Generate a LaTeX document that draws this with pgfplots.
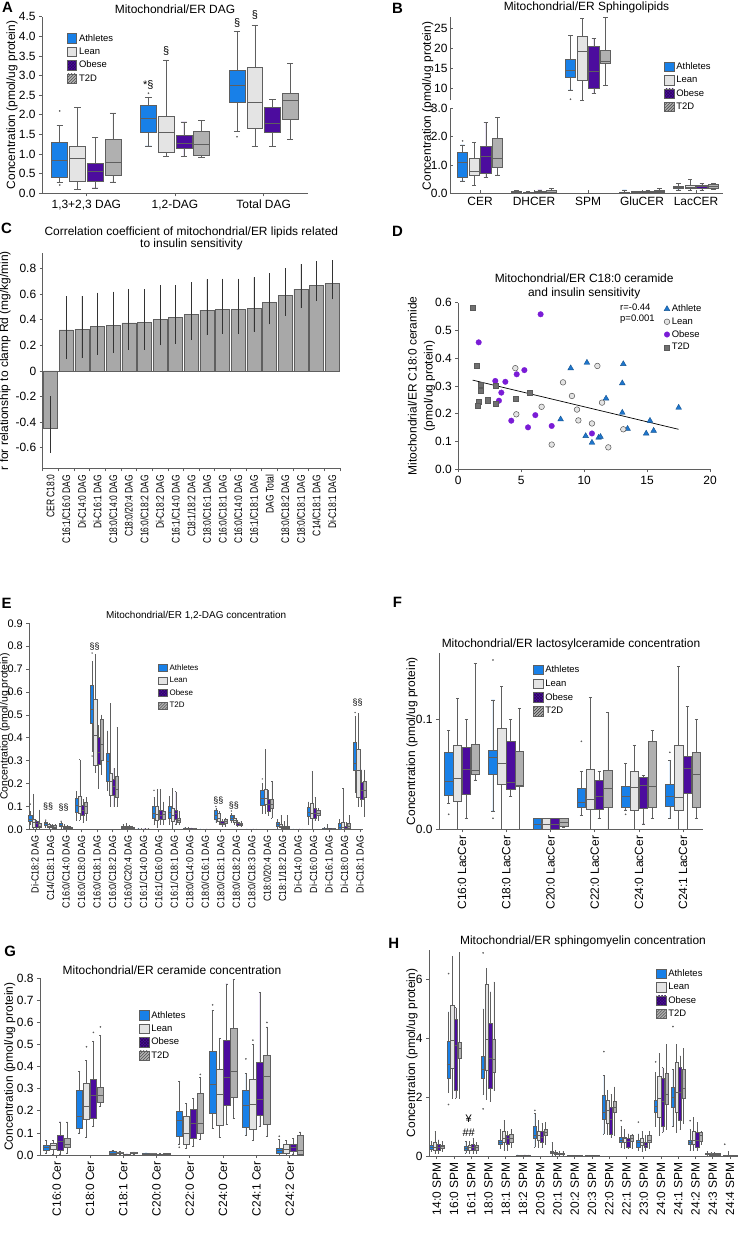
\documentclass[border=0pt]{standalone}
\usepackage{fontspec}
\setmainfont{Liberation Sans}
\usepackage{pgfplots}
\pgfplotsset{compat=1.18}
\usepgfplotslibrary{statistics}
\usetikzlibrary{patterns}

\definecolor{cA}{RGB}{24,128,232}
\definecolor{cL}{RGB}{228,228,228}
\definecolor{cO}{RGB}{76,12,158}
\definecolor{cT}{RGB}{176,176,176}
\definecolor{cE}{RGB}{95,95,95}
\definecolor{cDA}{RGB}{30,118,205}
\definecolor{cDO}{RGB}{122,28,214}
\definecolor{cDT}{RGB}{112,112,112}
\definecolor{cBar}{RGB}{168,168,168}
\newcommand{\fs}[2]{\fontsize{#1}{#2}\selectfont}

\tikzset{
 sA/.style={draw=cE, fill=cA, line width=0.6bp},
 sL/.style={draw=cE, fill=cL, line width=0.6bp},
 sO/.style={draw=cE, fill=cO, line width=0.6bp, postaction={pattern=crosshatch, pattern color=cO!55!black}},
 sT/.style={draw=cE, fill=cT, line width=0.6bp, postaction={pattern=north east lines, pattern color=gray!45!black}},
}

\pgfplotsset{
 panel/.style={scale only axis, anchor=south west, clip=false, axis lines*=left,
   axis line style={cE, line width=0.7bp}, every tick/.style={cE, line width=0.7bp},
   tick align=outside, major tick length=3bp,
   tick label style={font=\fs{12}{13}}, label style={font=\fs{12}{14}},
   title style={font=\fs{12}{14}, align=center, yshift=-6pt},
   /pgf/number format/assume math mode=true,
   legend style={draw=none, fill=none, inner sep=0pt, anchor=north west, font=\fs{9.5}{10}, row sep=1.2bp},
   legend cell align=left},
 bxa/.style={panel, boxplot/draw direction=y, legend image code/.code={\path[##1] (0bp,-4.7bp) rectangle (9.5bp,4.7bp);}},
 f1/.style={yticklabel style={/pgf/number format/fixed,/pgf/number format/fixed zerofill,/pgf/number format/precision=1}},
 rotx/.style={xticklabel style={rotate=90, anchor=east}},
}

\newcommand{\bx}[7]{\pgfmathsetmacro\dpos{#2}\edef\bxtmp{\noexpand\addplot[#1,boxplot prepared={draw position=\dpos,lower whisker=#3,lower quartile=#4,median=#5,upper quartile=#6,upper whisker=#7}] coordinates {};}\bxtmp}
\newcommand{\bA}[6]{\bx{sA}{#1-1.5*\off}{#2}{#3}{#4}{#5}{#6}}
\newcommand{\bL}[6]{\bx{sL}{#1-0.5*\off}{#2}{#3}{#4}{#5}{#6}}
\newcommand{\bO}[6]{\bx{sO}{#1+0.5*\off}{#2}{#3}{#4}{#5}{#6}}
\newcommand{\bT}[6]{\bx{sT}{#1+1.5*\off}{#2}{#3}{#4}{#5}{#6}}
\newcommand{\leg}{\addlegendimage{sA}\addlegendimage{sL}\addlegendimage{sO}\addlegendimage{sT}\legend{Athletes,Lean,Obese,T2D}}

\begin{document}
\begin{tikzpicture}
\useasboundingbox (0,0) rectangle (739bp,-1251bp);

% ---------------- A ----------------
\def\off{0.2}
\begin{axis}[bxa, f1, at={(42bp,-193.3bp)}, width=266bp, height=176.6bp,
  xmin=-0.5, xmax=2.5, ymin=0, ymax=4.5,
  ytick={0,0.5,1,1.5,2,2.5,3,3.5,4,4.5},
  xtick={0,1,2}, xticklabels={{1,3+2,3 DAG},{1,2-DAG},{Total DAG}},
  title={Mitochondrial/ER DAG},
  ylabel={Concentration (pmol/ug protein)},
  ylabel style={at={(axis description cs:-0.113,0.5)}, anchor=center},
  legend style={at={(0.093,0.913)}},
  boxplot/box extend=0.18, boxplot/whisker extend=0.07]
\leg
\bA{0}{0.27}{0.40}{0.85}{1.29}{1.74}
\bL{0}{0.10}{0.30}{0.89}{1.20}{2.19}
\bO{0}{0.14}{0.31}{0.55}{0.76}{1.43}
\bT{0}{0.29}{0.45}{0.79}{1.38}{2.05}
\bA{1}{1.21}{1.55}{1.91}{2.24}{2.44}
\bL{1}{0.94}{1.04}{1.55}{1.95}{3.40}
\bO{1}{0.95}{1.15}{1.27}{1.47}{1.82}
\bT{1}{0.91}{0.98}{1.25}{1.57}{1.85}
\bA{2}{1.57}{2.33}{2.74}{3.13}{4.13}
\bL{2}{1.20}{1.65}{2.32}{3.21}{4.29}
\bO{2}{1.20}{1.55}{1.79}{2.19}{2.39}
\bT{2}{1.38}{1.88}{2.37}{2.55}{3.31}
\addplot[only marks, mark=*, mark size=0.6bp, cE] coordinates {(-0.3,2.1) (-0.3,0.21) (0.7,2.55) (1.7,1.44)};
\node[font=\fs{11}{12}] at (axis cs:0.7,2.75) {*§};
\node[font=\fs{11}{12}] at (axis cs:0.9,3.62) {§};
\node[font=\fs{11}{12}] at (axis cs:1.7,4.33) {§};
\node[font=\fs{11}{12}] at (axis cs:1.9,4.54) {§};
\end{axis}

% ---------------- B upper ----------------
\def\off{0.216}
\begin{axis}[bxa, at={(450bp,-100bp)}, width=273bp, height=83.3bp,
  xmin=-0.556, xmax=4.5, ymin=7.1, ymax=27.9,
  axis x line=none, ytick={10,15,20,25}, tick align=inside,
  yticklabel style={xshift=1bp},
  title={Mitochondrial/ER Sphingolipids},
  legend style={at={(0.784,0.474)}},
  boxplot/box extend=0.19, boxplot/whisker extend=0.08]
\leg
\bA{2}{9.6}{12.75}{14.6}{17.25}{23.2}
\bL{2}{7.1}{12.1}{19.2}{23.1}{27.5}
\bO{2}{8.75}{10.0}{14.2}{20.4}{22.5}
\bT{2}{10.75}{16.25}{16.8}{19.4}{27.75}
\addplot[only marks, mark=*, mark size=0.6bp, cE] coordinates {(1.676,7.3)};
\end{axis}

% ---------------- B lower ----------------
\begin{axis}[bxa, at={(450bp,-193.3bp)}, width=273bp, height=85bp,
  xmin=-0.556, xmax=4.5, ymin=0, ymax=3,
  ytick={0,1,2,3}, yticklabels={0.0,1.0,2.0,3.0}, tick align=inside,
  yticklabel style={xshift=1bp},
  xtick={0,1,2,3,4}, xticklabels={CER,DHCER,SPM,GluCER,LacCER},
  ylabel={Concentration (pmol/ug protein)},
  ylabel style={at={(axis description cs:-0.081,1.027)}, anchor=center},
  boxplot/box extend=0.19, boxplot/whisker extend=0.08]
\bA{0}{0.44}{0.56}{1.08}{1.45}{1.71}
\bL{0}{0.28}{0.65}{0.76}{1.24}{1.80}
\bO{0}{0.56}{0.71}{1.29}{1.67}{2.50}
\bT{0}{0.65}{0.91}{1.24}{1.93}{2.68}
\bA{1}{0.01}{0.02}{0.04}{0.06}{0.10}
\bL{1}{0.01}{0.02}{0.03}{0.05}{0.07}
\bO{1}{0.01}{0.02}{0.04}{0.06}{0.12}
\bT{1}{0.01}{0.03}{0.05}{0.09}{0.17}
\bA{3}{0.01}{0.02}{0.04}{0.05}{0.12}
\bL{3}{0.01}{0.03}{0.04}{0.06}{0.08}
\bO{3}{0.01}{0.02}{0.04}{0.06}{0.10}
\bT{3}{0.02}{0.04}{0.07}{0.12}{0.17}
\bA{4}{0.12}{0.17}{0.22}{0.26}{0.36}
\bL{4}{0.12}{0.18}{0.22}{0.30}{0.50}
\bO{4}{0.10}{0.17}{0.24}{0.28}{0.35}
\bT{4}{0.15}{0.18}{0.25}{0.32}{0.36}
\addplot[only marks, mark=*, mark size=0.6bp, cE] coordinates {(-0.324,1.85)};
\end{axis}

% ---------------- C ----------------
\begin{axis}[panel, at={(42.7bp,-468.3bp)}, width=297.3bp, height=215.3bp,
  xmin=-0.5, xmax=18.5, ymin=-0.76, ymax=0.92,
  ytick={-0.6,-0.4,-0.2,0,0.2,0.4,0.6,0.8},
  yticklabels={-0.6,-0.4,-0.2,0,0.2,0.4,0.6,0.8},
  x tick label as interval,
  xtick={-0.5,0.5,...,18.5},
  xticklabels={CER C18:0,C16:1/C16:0 DAG,Di-C14:0 DAG,Di-C16:1 DAG,C18:0/C14:0 DAG,C18:0/20:4 DAG,C16:0/C18:2 DAG,Di-C18:2 DAG,C16:1/C14:0 DAG,C18:1/18:2 DAG,C18:0/C16:1 DAG,C16:0/C18:1 DAG,C16:0/C14:0 DAG,C16:1/C18:1 DAG,DAG Total,C18:0/C18:2 DAG,C18:0/C18:1 DAG,C14/C18:1 DAG,Di-C18:1 DAG},
  xticklabel style={rotate=90, anchor=east, font=\fs{8.5}{9}, yscale=1.3},
  extra y ticks={0}, extra y tick labels={},
  extra y tick style={grid=major, major grid style={cE, line width=0.8bp}},
  title={Correlation coefficient of mitochondrial/ER lipids related\\to insulin sensitivity},
  title style={font=\fs{12}{11.5}},
  ylabel={r for relationship to clamp Rd (mg/kg/min)},
  ylabel style={at={(axis description cs:-0.127,0.5)}, anchor=center}]
\addplot[ybar, bar width=14bp, fill=cBar, draw=cE, line width=0.5bp,
  error bars/.cd, y dir=both, y explicit, error mark=none,
  error bar style={gray!40!black, line width=0.6bp}]
  coordinates {
  (0,-0.447) += (0,0.252) -= (0,0.193)
  (1,0.320) += (0,0.264) -= (0,0.230)
  (2,0.327) += (0,0.257) -= (0,0.227)
  (3,0.350) += (0,0.260) -= (0,0.225)
  (4,0.358) += (0,0.260) -= (0,0.220)
  (5,0.374) += (0,0.266) -= (0,0.210)
  (6,0.380) += (0,0.256) -= (0,0.216)
  (7,0.405) += (0,0.265) -= (0,0.205)
  (8,0.415) += (0,0.255) -= (0,0.205)
  (9,0.440) += (0,0.250) -= (0,0.200)
  (10,0.475) += (0,0.239) -= (0,0.195)
  (11,0.480) += (0,0.240) -= (0,0.190)
  (12,0.480) += (0,0.240) -= (0,0.190)
  (13,0.488) += (0,0.242) -= (0,0.182)
  (14,0.537) += (0,0.226) -= (0,0.174)
  (15,0.590) += (0,0.210) -= (0,0.160)
  (16,0.638) += (0,0.196) -= (0,0.148)
  (17,0.670) += (0,0.184) -= (0,0.125)
  (18,0.683) += (0,0.179) -= (0,0.125)
  };
\end{axis}

% ---------------- D ----------------
\begin{axis}[panel, f1, at={(458.3bp,-469.3bp)}, width=251.7bp, height=166.7bp,
  xmin=0, xmax=20, ymin=0, ymax=0.6,
  xtick={0,5,10,15,20}, ytick={0,0.1,0.2,0.3,0.4,0.5,0.6},
  title={Mitochondrial/ER C18:0 ceramide\\and insulin sensitivity},
  ylabel={Mitochondrial/ER C18:0 ceramide\\(pmol/ug protein)},
  ylabel style={at={(axis description cs:-0.146,0.5)}, anchor=center, align=center, font=\fs{12}{16}},
  legend style={at={(0.817,1.0)}, row sep=0.6bp},
  legend image code/.code={\draw[mark repeat=2,mark phase=2,#1] plot coordinates {(0bp,0bp) (5bp,0bp) (10bp,0bp)};}]
\addplot[only marks, mark=triangle*, mark size=3.3bp, mark options={fill=cDA, draw=cDA!70!black, line width=0.4bp}] coordinates {
 (8.93,0.364) (10.22,0.384) (13.11,0.379) (13.03,0.31) (11.74,0.255) (17.51,0.222) (13.03,0.204) (8.13,0.18)
 (15.23,0.175) (13.45,0.146) (15.52,0.139) (14.93,0.129) (10.12,0.12) (10.62,0.096) (11.15,0.114) (11.3,0.117)};
\addplot[only marks, mark=*, mark size=2.8bp, mark options={fill=cL, draw=gray!65!black, line width=0.5bp}] coordinates {
 (4.53,0.364) (11.05,0.372) (8.32,0.313) (9.03,0.264) (4.61,0.198) (6.62,0.225) (9.43,0.215) (9.54,0.176)
 (10.62,0.165) (11.42,0.24) (13.11,0.144) (7.42,0.089) (11.92,0.079)};
\addplot[only marks, mark=*, mark size=2.8bp, mark options={fill=cDO, draw=cDO, line width=0.3bp}] coordinates {
 (6.54,0.558) (1.62,0.457) (2.94,0.318) (3.74,0.315) (3.42,0.276) (3.23,0.247) (4.64,0.342) (5.25,0.357)
 (4.21,0.175) (6.12,0.195) (5.54,0.151) (7.42,0.156) (10.62,0.129)};
\addplot[only marks, mark=square*, mark size=2.6bp, mark options={fill=cDT, draw=cDT!80!black, line width=0.3bp}] coordinates {
 (1.14,0.583) (1.46,0.373) (1.75,0.306) (1.75,0.284) (1.62,0.243) (1.51,0.229) (2.3,0.249) (2.94,0.301)
 (2.94,0.236) (4.53,0.253) (5.64,0.275)};
\addplot[black, line width=0.7bp, forget plot] coordinates {(1.14,0.321) (17.5,0.144)};
\legend{Athlete,Lean,Obese,T2D}
\node[anchor=north west, align=left, font=\fs{9.5}{10.5}, inner sep=0pt] at (axis cs:12.85,0.595) {r=-0.44\\p=0.001};
\end{axis}

% ---------------- E ----------------
\def\off{0.205}
\begin{axis}[bxa, f1, at={(29.3bp,-829.3bp)}, width=333.7bp, height=206bp,
  xmin=-0.37, xmax=21.2, ymin=0, ymax=0.9,
  ytick={0,0.1,0.2,0.3,0.4,0.5,0.6,0.7,0.8,0.9},
  xtick={0,...,21},
  xticklabels={Di-C18:2 DAG,C14/C18:1 DAG,C16:0/C14:0 DAG,C16:0/C18:0 DAG,C16:0/C18:1 DAG,C16:0/C18:2 DAG,C16:0/C20:4 DAG,C16:1/C14:0 DAG,C16:1/C16:0 DAG,C16:1/C18:1 DAG,C18:0/C14:0 DAG,C18:0/C16:1 DAG,C18:0/C18:1 DAG,C18:0/C18:2 DAG,C18:0/C18:3 DAG,C18:0/20:4 DAG,C18:1/18:2 DAG,Di-C14:0 DAG,Di-C16:0 DAG,Di-C16:1 DAG,Di-C18:0 DAG,Di-C18:1 DAG},
  tick label style={font=\fs{11}{12}},
  xticklabel style={rotate=90, anchor=east, font=\fs{9}{10}, yscale=1.15},
  label style={font=\fs{10.5}{12}}, title style={font=\fs{10}{12}},
  title={Mitochondrial/ER 1,2-DAG concentration},
  ylabel={Concentration (pmol/ug protein)},
  ylabel style={at={(axis description cs:-0.073,0.5)}, anchor=center},
  legend style={at={(0.386,0.812)}, font=\fs{8}{9}, row sep=1.5bp},
  legend image code/.code={\path[#1] (0bp,-3.6bp) rectangle (8.7bp,3.6bp);},
  boxplot/box extend=0.2, boxplot/whisker extend=0.05]
\leg
\bA{0}{0.02}{0.035}{0.045}{0.06}{0.08}
\bL{0}{0}{0.01}{0.03}{0.045}{0.155}
\bO{0}{0}{0.01}{0.025}{0.035}{0.04}
\bT{0}{0}{0.01}{0.015}{0.025}{0.085}
\bA{1}{0.01}{0.018}{0.025}{0.03}{0.035}
\bL{1}{0}{0.008}{0.013}{0.02}{0.025}
\bO{1}{0.002}{0.008}{0.012}{0.018}{0.022}
\bT{1}{0.002}{0.006}{0.01}{0.016}{0.02}
\bA{2}{0.005}{0.012}{0.018}{0.025}{0.03}
\bL{2}{0}{0.005}{0.01}{0.015}{0.02}
\bO{2}{0}{0.005}{0.008}{0.012}{0.016}
\bT{2}{0}{0.005}{0.008}{0.01}{0.013}
\bA{3}{0.04}{0.075}{0.105}{0.135}{0.165}
\bL{3}{0.04}{0.07}{0.1}{0.145}{0.305}
\bO{3}{0.03}{0.06}{0.085}{0.105}{0.13}
\bT{3}{0.04}{0.07}{0.1}{0.12}{0.14}
\bA{4}{0.34}{0.465}{0.525}{0.63}{0.735}
\bL{4}{0.25}{0.28}{0.41}{0.57}{0.765}
\bO{4}{0.18}{0.285}{0.335}{0.4}{0.455}
\bT{4}{0.24}{0.3}{0.37}{0.48}{0.5}
\bA{5}{0.17}{0.21}{0.295}{0.33}{0.43}
\bL{5}{0.1}{0.15}{0.21}{0.245}{0.55}
\bO{5}{0.1}{0.15}{0.19}{0.22}{0.265}
\bT{5}{0.1}{0.14}{0.175}{0.23}{0.445}
\bA{6}{0}{0.004}{0.008}{0.012}{0.02}
\bL{6}{0}{0.003}{0.007}{0.012}{0.025}
\bO{6}{0}{0.003}{0.007}{0.012}{0.018}
\bT{6}{0}{0.002}{0.005}{0.008}{0.015}
\bA{7}{0}{0.001}{0.0015}{0.002}{0.003}
\bL{7}{0}{0.001}{0.0015}{0.002}{0.003}
\bO{7}{0}{0.001}{0.0015}{0.002}{0.003}
\bT{7}{0}{0.001}{0.0015}{0.002}{0.003}
\bA{8}{0.02}{0.05}{0.07}{0.1}{0.14}
\bL{8}{0.01}{0.04}{0.065}{0.1}{0.175}
\bO{8}{0.02}{0.045}{0.06}{0.085}{0.175}
\bT{8}{0.02}{0.045}{0.065}{0.08}{0.12}
\bA{9}{0.02}{0.05}{0.075}{0.1}{0.145}
\bL{9}{0}{0.035}{0.06}{0.09}{0.18}
\bO{9}{0.02}{0.045}{0.07}{0.085}{0.165}
\bT{9}{0.02}{0.03}{0.04}{0.05}{0.08}
\bA{10}{0}{0.002}{0.004}{0.006}{0.01}
\bL{10}{0}{0.001}{0.003}{0.005}{0.008}
\bO{10}{0}{0.001}{0.002}{0.004}{0.006}
\bT{10}{0}{0.001}{0.002}{0.003}{0.005}
\bA{11}{0}{0.0005}{0.001}{0.0015}{0.002}
\bL{11}{0}{0.0005}{0.001}{0.0015}{0.002}
\bO{11}{0}{0.0005}{0.001}{0.0015}{0.002}
\bT{11}{0}{0.0005}{0.001}{0.0015}{0.002}
\bA{12}{0.03}{0.045}{0.06}{0.085}{0.09}
\bL{12}{0.02}{0.035}{0.05}{0.07}{0.08}
\bO{12}{0.015}{0.02}{0.028}{0.035}{0.045}
\bT{12}{0.015}{0.025}{0.035}{0.045}{0.05}
\bA{13}{0.03}{0.04}{0.05}{0.06}{0.07}
\bL{13}{0.02}{0.03}{0.04}{0.05}{0.06}
\bO{13}{0.012}{0.018}{0.025}{0.03}{0.04}
\bT{13}{0.012}{0.018}{0.024}{0.028}{0.035}
\bA{14}{0}{0.0005}{0.001}{0.0015}{0.002}
\bL{14}{0}{0.0005}{0.001}{0.0015}{0.002}
\bO{14}{0}{0.0005}{0.001}{0.0015}{0.002}
\bT{14}{0}{0.0005}{0.001}{0.0015}{0.002}
\bA{15}{0.07}{0.105}{0.135}{0.17}{0.2}
\bL{15}{0.07}{0.11}{0.135}{0.175}{0.35}
\bO{15}{0.06}{0.08}{0.11}{0.13}{0.17}
\bT{15}{0.05}{0.09}{0.11}{0.13}{0.21}
\bA{16}{0.005}{0.015}{0.022}{0.03}{0.045}
\bL{16}{0}{0.008}{0.014}{0.02}{0.06}
\bO{16}{0}{0.005}{0.01}{0.015}{0.035}
\bT{16}{0}{0.003}{0.008}{0.012}{0.06}
\bA{17}{0}{0.0005}{0.001}{0.0015}{0.002}
\bL{17}{0}{0.0005}{0.001}{0.0015}{0.002}
\bO{17}{0}{0.0005}{0.001}{0.0015}{0.002}
\bT{17}{0}{0.0005}{0.001}{0.0015}{0.002}
\bA{18}{0.02}{0.055}{0.075}{0.095}{0.12}
\bL{18}{0}{0.05}{0.07}{0.115}{0.255}
\bO{18}{0.04}{0.05}{0.07}{0.09}{0.14}
\bT{18}{0.04}{0.06}{0.07}{0.085}{0.09}
\bA{19}{0}{0.001}{0.002}{0.004}{0.008}
\bL{19}{0}{0.001}{0.003}{0.005}{0.02}
\bO{19}{0}{0.001}{0.002}{0.003}{0.005}
\bT{19}{0}{0.001}{0.002}{0.003}{0.005}
\bA{20}{0}{0.002}{0.01}{0.025}{0.045}
\bL{20}{0}{0.002}{0.01}{0.03}{0.18}
\bO{20}{0}{0.002}{0.006}{0.012}{0.03}
\bT{20}{0}{0.005}{0.012}{0.025}{0.06}
\bA{21}{0.16}{0.26}{0.29}{0.38}{0.495}
\bL{21}{0.1}{0.14}{0.26}{0.35}{0.505}
\bO{21}{0.1}{0.13}{0.17}{0.205}{0.26}
\bT{21}{0.055}{0.14}{0.17}{0.21}{0.26}
\addplot[only marks, mark=*, mark size=0.45bp, cE] coordinates {(-0.31,0.11) (3.69,0.77) (3.69,0.32) (7.69,0.17) (14.69,0.22) (0.69,0.04) (1.69,0.035) (11.69,0.1) (12.69,0.08) (20.69,0.51)};
\node[font=\fs{9}{10}] at (axis cs:0.85,0.1) {§§};
\node[font=\fs{9}{10}] at (axis cs:1.85,0.095) {§§};
\node[font=\fs{9}{10}] at (axis cs:3.85,0.8) {§§};
\node[font=\fs{9}{10}] at (axis cs:11.85,0.125) {§§};
\node[font=\fs{9}{10}] at (axis cs:12.85,0.105) {§§};
\node[font=\fs{9}{10}] at (axis cs:20.85,0.555) {§§};
\end{axis}

% ---------------- F ----------------
\def\off{0.2}
\begin{axis}[bxa, f1, rotx, at={(439bp,-829.3bp)}, width=264bp, height=176.3bp,
  xmin=-0.52, xmax=5.45, ymin=0, ymax=0.1603,
  ytick={0,0.1},
  xtick={0,...,5},
  xticklabels={C16:0 LacCer,C18:0 LacCer,C20:0 LacCer,C22:0 LacCer,C24:0 LacCer,C24:1 LacCer},
  title={Mitochondrial/ER lactosylceramide concentration},
  ylabel={Concentration (pmol/ug protein)},
  ylabel style={at={(axis description cs:-0.102,0.5)}, anchor=center},
  legend style={at={(0.356,0.94)}, row sep=1.6bp},
  boxplot/box extend=0.19, boxplot/whisker extend=0.07]
\leg
\bA{0}{0.0236}{0.0306}{0.044}{0.0703}{0.09}
\bL{0}{0}{0.0258}{0.046}{0.0764}{0.119}
\bO{0}{0.01}{0.032}{0.055}{0.075}{0.1}
\bT{0}{0.045}{0.05}{0.054}{0.077}{0.151}
\bA{1}{0.0167}{0.05}{0.0655}{0.072}{0.1176}
\bL{1}{0}{0.041}{0.06}{0.092}{0.13}
\bO{1}{0.03}{0.0367}{0.043}{0.08}{0.1}
\bT{1}{0}{0.0394}{0.04}{0.0706}{0.11}
\bA{2}{0}{0}{0.005}{0.01}{0.01}
\bL{2}{0}{0}{0.005}{0.01}{0.01}
\bO{2}{0}{0}{0.005}{0.01}{0.01}
\bT{2}{0.002}{0.003}{0.006}{0.01}{0.01}
\bA{3}{0.0124}{0.0197}{0.025}{0.037}{0.053}
\bL{3}{0}{0.018}{0.0276}{0.0545}{0.12}
\bO{3}{0.01}{0.018}{0.03}{0.045}{0.053}
\bT{3}{0}{0.0197}{0.0376}{0.054}{0.106}
\bA{4}{0.0176}{0.02}{0.03}{0.0394}{0.06}
\bL{4}{0}{0.0176}{0.038}{0.0524}{0.0767}
\bO{4}{0.005}{0.019}{0.04}{0.047}{0.049}
\bT{4}{0.01}{0.0197}{0.039}{0.08}{0.09}
\bA{5}{0.01}{0.0206}{0.03}{0.041}{0.063}
\bL{5}{0}{0.0176}{0.029}{0.076}{0.148}
\bO{5}{0}{0.0327}{0.0555}{0.066}{0.112}
\bT{5}{0.01}{0.0197}{0.05}{0.07}{0.1}
\addplot[only marks, mark=*, mark size=0.6bp, cE] coordinates {(-0.3,0.0136) (0.7,0.154) (0.7,0.01) (2.7,0.08) (3.7,0.0136) (4.7,0.07)};
\end{axis}

% ---------------- G ----------------
\def\off{0.21}
\begin{axis}[bxa, f1, rotx, at={(40bp,-1155bp)}, width=264bp, height=176.7bp,
  xmin=-0.5, xmax=7.43, ymin=0, ymax=0.8,
  ytick={0,0.1,0.2,0.3,0.4,0.5,0.6,0.7,0.8},
  xtick={0,...,7},
  xticklabels={C16:0 Cer,C18:0 Cer,C18:1 Cer,C20:0 Cer,C22:0 Cer,C24:0 Cer,C24:1 Cer,C24:2 Cer},
  title={Mitochondrial/ER ceramide concentration},
  ylabel={Concentration (pmol/ug protein)},
  ylabel style={at={(axis description cs:-0.114,0.5)}, anchor=center},
  legend style={at={(0.375,0.826)}, row sep=1.2bp},
  boxplot/box extend=0.2, boxplot/whisker extend=0.06]
\leg
\bA{0}{0.01}{0.02}{0.035}{0.045}{0.065}
\bL{0}{0.005}{0.025}{0.045}{0.055}{0.065}
\bO{0}{0.005}{0.02}{0.06}{0.09}{0.15}
\bT{0}{0.01}{0.035}{0.05}{0.075}{0.15}
\bA{1}{0.1}{0.123}{0.175}{0.295}{0.38}
\bL{1}{0.08}{0.16}{0.22}{0.325}{0.43}
\bO{1}{0.13}{0.165}{0.27}{0.345}{0.515}
\bT{1}{0.22}{0.24}{0.27}{0.305}{0.54}
\bA{2}{0}{0.005}{0.01}{0.015}{0.02}
\bL{2}{0.005}{0.008}{0.01}{0.013}{0.015}
\bO{2}{0}{0.001}{0.002}{0.003}{0.005}
\bT{2}{0.005}{0.008}{0.01}{0.012}{0.014}
\bA{3}{0}{0.003}{0.005}{0.008}{0.01}
\bL{3}{0}{0.003}{0.005}{0.007}{0.008}
\bO{3}{0}{0.002}{0.003}{0.005}{0.006}
\bT{3}{0.003}{0.005}{0.006}{0.008}{0.009}
\bA{4}{0.05}{0.087}{0.155}{0.2}{0.335}
\bL{4}{0.03}{0.05}{0.1}{0.175}{0.235}
\bO{4}{0.04}{0.075}{0.145}{0.205}{0.255}
\bT{4}{0.07}{0.1}{0.145}{0.28}{0.35}
\bA{5}{0.12}{0.19}{0.32}{0.47}{0.655}
\bL{5}{0.08}{0.135}{0.275}{0.39}{0.53}
\bO{5}{0.14}{0.225}{0.35}{0.52}{0.775}
\bT{5}{0.165}{0.26}{0.38}{0.575}{0.795}
\bA{6}{0.09}{0.125}{0.225}{0.295}{0.37}
\bL{6}{0.065}{0.115}{0.23}{0.345}{0.5}
\bO{6}{0.13}{0.18}{0.25}{0.42}{0.735}
\bT{6}{0.085}{0.14}{0.355}{0.45}{0.58}
\bA{7}{0}{0.01}{0.02}{0.03}{0.07}
\bL{7}{0}{0.01}{0.025}{0.05}{0.065}
\bO{7}{0.005}{0.015}{0.035}{0.05}{0.075}
\bT{7}{0}{0.005}{0.02}{0.09}{0.105}
\addplot[only marks, mark=*, mark size=0.6bp, cE] coordinates {(0.895,0.49) (1.105,0.555) (1.315,0.58) (3.685,0.035) (4.315,0.365) (4.685,0.68) (5.685,0.435) (5.895,0.52) (6.315,0.6) (6.685,0.085)};
\end{axis}

% ---------------- H ----------------
\def\off{0.21}
\begin{axis}[bxa, rotx, at={(429bp,-1156bp)}, width=308bp, height=206bp,
  xmin=-0.45, xmax=17.4, ymin=0, ymax=7,
  ytick={0,2,4,6},
  xtick={0,...,17},
  xticklabels={14:0 SPM,16:0 SPM,16:1 SPM,18:0 SPM,18:1 SPM,18:2 SPM,20:0 SPM,20:1 SPM,20:2 SPM,20:3 SPM,22:0 SPM,22:1 SPM,23:0 SPM,24:0 SPM,24:1 SPM,24:2 SPM,24:3 SPM,24:4 SPM},
  title={Mitochondrial/ER sphingomyelin concentration},
  ylabel={Concentration (pmol/ug protein)},
  ylabel style={at={(axis description cs:-0.055,0.5)}, anchor=center},
  legend style={at={(0.737,0.915)}, row sep=1.2bp},
  boxplot/box extend=0.19, boxplot/whisker extend=0.05]
\leg
\bA{0}{0.15}{0.22}{0.28}{0.35}{0.5}
\bL{0}{0.1}{0.2}{0.3}{0.45}{0.85}
\bO{0}{0.1}{0.2}{0.3}{0.4}{0.55}
\bT{0}{0.15}{0.25}{0.32}{0.38}{0.5}
\bA{1}{2.15}{2.65}{3.1}{3.9}{4.9}
\bL{1}{1.96}{2.98}{3.93}{5.12}{6.8}
\bO{1}{1.96}{2.24}{3.75}{4.64}{5.04}
\bT{1}{1.96}{3.32}{3.66}{3.85}{6.92}
\bA{2}{0.1}{0.2}{0.25}{0.32}{0.5}
\bL{2}{0.1}{0.2}{0.3}{0.38}{0.5}
\bO{2}{0.1}{0.2}{0.3}{0.4}{0.6}
\bT{2}{0.1}{0.2}{0.28}{0.35}{0.45}
\bA{3}{2.1}{2.65}{2.95}{3.4}{5.0}
\bL{3}{1.93}{2.9}{3.96}{5.82}{6.38}
\bO{3}{1.85}{2.3}{3.32}{4.5}{5.58}
\bT{3}{2.24}{2.84}{3.28}{3.97}{5.92}
\bA{4}{0.25}{0.4}{0.45}{0.55}{0.9}
\bL{4}{0.2}{0.45}{0.6}{0.85}{1.2}
\bO{4}{0.2}{0.4}{0.6}{0.7}{0.85}
\bT{4}{0.3}{0.45}{0.6}{0.75}{0.9}
\bA{5}{0}{0.01}{0.02}{0.03}{0.04}
\bL{5}{0}{0.01}{0.02}{0.03}{0.04}
\bO{5}{0}{0.01}{0.02}{0.03}{0.04}
\bT{5}{0}{0.01}{0.02}{0.03}{0.04}
\bA{6}{0.3}{0.6}{0.72}{1.0}{1.45}
\bL{6}{0.3}{0.55}{0.7}{0.85}{1.2}
\bO{6}{0.3}{0.45}{0.65}{0.85}{1.1}
\bT{6}{0.4}{0.7}{0.8}{0.9}{1.15}
\bA{7}{0.02}{0.08}{0.12}{0.15}{0.45}
\bL{7}{0.02}{0.05}{0.08}{0.12}{0.2}
\bO{7}{0.02}{0.05}{0.08}{0.1}{0.15}
\bT{7}{0.02}{0.05}{0.08}{0.1}{0.15}
\bA{8}{0}{0.005}{0.01}{0.015}{0.02}
\bL{8}{0}{0.005}{0.01}{0.015}{0.02}
\bO{8}{0}{0.005}{0.01}{0.015}{0.02}
\bT{8}{0}{0.005}{0.01}{0.015}{0.02}
\bA{9}{0}{0.005}{0.01}{0.015}{0.02}
\bL{9}{0}{0.005}{0.01}{0.015}{0.02}
\bO{9}{0}{0.005}{0.01}{0.015}{0.02}
\bT{9}{0}{0.005}{0.01}{0.015}{0.02}
\bA{10}{0.75}{1.25}{1.5}{2.07}{2.75}
\bL{10}{0.75}{1.1}{1.55}{1.9}{2.25}
\bO{10}{0.65}{0.75}{1.25}{1.65}{2.1}
\bT{10}{0.7}{1.5}{1.65}{1.85}{2.35}
\bA{11}{0.3}{0.45}{0.55}{0.65}{1.0}
\bL{11}{0.25}{0.45}{0.6}{0.65}{0.9}
\bO{11}{0.25}{0.3}{0.5}{0.6}{0.75}
\bT{11}{0.25}{0.5}{0.6}{0.7}{0.75}
\bA{12}{0.2}{0.3}{0.45}{0.55}{0.75}
\bL{12}{0.15}{0.35}{0.45}{0.6}{0.85}
\bO{12}{0.2}{0.3}{0.38}{0.45}{0.7}
\bT{12}{0.25}{0.45}{0.55}{0.7}{0.85}
\bA{13}{1.0}{1.5}{1.7}{1.9}{2.85}
\bL{13}{0.7}{1.3}{1.95}{2.7}{3.5}
\bO{13}{0.8}{1.0}{1.85}{2.65}{3.0}
\bT{13}{0.9}{1.75}{2.1}{2.8}{3.8}
\bA{14}{1.0}{1.65}{2.0}{2.35}{2.95}
\bL{14}{0.8}{1.5}{2.15}{3.2}{3.8}
\bO{14}{0.9}{1.2}{2.15}{3.0}{3.4}
\bT{14}{1.1}{1.95}{2.3}{2.95}{3.65}
\bA{15}{0.2}{0.4}{0.48}{0.55}{0.9}
\bL{15}{0.2}{0.4}{0.55}{0.85}{1.3}
\bO{15}{0.2}{0.3}{0.55}{0.8}{1.15}
\bT{15}{0.4}{0.5}{0.7}{0.8}{0.85}
\bA{16}{0.01}{0.05}{0.08}{0.1}{0.15}
\bL{16}{0.01}{0.04}{0.07}{0.1}{0.12}
\bO{16}{0.01}{0.04}{0.06}{0.09}{0.12}
\bT{16}{0.01}{0.03}{0.05}{0.08}{0.1}
\bA{17}{0}{0.005}{0.01}{0.015}{0.02}
\bL{17}{0}{0.005}{0.01}{0.02}{0.15}
\bO{17}{0}{0.005}{0.01}{0.015}{0.02}
\bT{17}{0}{0.005}{0.01}{0.015}{0.02}
\addplot[only marks, mark=*, mark size=0.6bp, cE] coordinates {(0.685,6.2) (0.685,1.75) (2.685,6.9) (2.685,1.6) (5.685,1.55) (9.685,3.55) (10.685,1.2) (11.685,1.15) (12.685,3.2) (13.685,4.4) (14.685,1.2) (16.685,0.4)};
\node[font=\fs{11}{12}] at (axis cs:1.85,0.8) {\#\#};
\node[font=\fs{11}{12}] at (axis cs:1.85,1.25) {¥};
\end{axis}

% ---------------- panel letters ----------------
\node[font=\bfseries\fs{15}{16}] at (7.5bp,-7.7bp) {A};
\node[font=\bfseries\fs{15}{16}] at (397.5bp,-8.3bp) {B};
\node[font=\bfseries\fs{15}{16}] at (6.5bp,-228bp) {C};
\node[font=\bfseries\fs{15}{16}] at (397.5bp,-231bp) {D};
\node[font=\bfseries\fs{15}{16}] at (6.5bp,-603.5bp) {E};
\node[font=\bfseries\fs{15}{16}] at (397.5bp,-602.5bp) {F};
\node[font=\bfseries\fs{15}{16}] at (10.3bp,-951.5bp) {G};
\node[font=\bfseries\fs{15}{16}] at (393.7bp,-943.7bp) {H};
\end{tikzpicture}
\end{document}
